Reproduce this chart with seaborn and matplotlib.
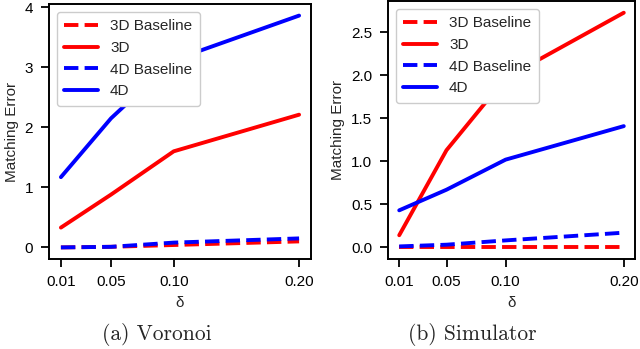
import numpy as np
import pandas as pd
import seaborn as sns
import matplotlib
matplotlib.use("Agg")
import matplotlib.pyplot as plt

deltas = [0.01, 0.05, 0.10, 0.20]
xtick_labels = ["0.01", "0.05", "0.10", "0.20"]

# (a) Voronoi
vor_3d_base = [0.00, 0.01, 0.04, 0.10]
vor_3d = [0.33, 0.88, 1.60, 2.21]
vor_4d_base = [0.00, 0.01, 0.08, 0.15]
vor_4d = [1.17, 2.15, 3.12, 3.86]

# (b) Simulator
sim_3d_base = [0.00, 0.00, 0.00, 0.00]
sim_3d = [0.14, 1.13, 1.97, 2.73]
sim_4d_base = [0.01, 0.03, 0.08, 0.17]
sim_4d = [0.43, 0.67, 1.02, 1.41]

series_names = ["3D Baseline", "3D", "4D Baseline", "4D"]
series_colors = ["#ff0000", "#ff0000", "#0000ff", "#0000ff"]
series_styles = ["--", "-", "--", "-"]

sns.set_style("ticks")
plt.rcParams["font.family"] = ["Liberation Sans", "DejaVu Sans"]
plt.rcParams["font.size"] = 11

fig = plt.figure(figsize=(6.4, 3.49), dpi=100)
ax1 = fig.add_axes([49/640, 1-259/349, (311-49)/640, (259-4)/349])
ax2 = fig.add_axes([388/640, 1-259/349, (635-388)/640, (259-1)/349])

panels = [
    (ax1, [vor_3d_base, vor_3d, vor_4d_base, vor_4d], [0, 1, 2, 3, 4], ["0", "1", "2", "3", "4"], "(a) Voronoi", 157),
    (ax2, [sim_3d_base, sim_3d, sim_4d_base, sim_4d], [0, 0.5, 1.0, 1.5, 2.0, 2.5],
     ["0.0", "0.5", "1.0", "1.5", "2.0", "2.5"], "(b) Simulator", 472),
]

for ax, data, yt, ytl, cap, cx in panels:
    for name, vals, col, ls in zip(series_names, data, series_colors, series_styles):
        df = pd.DataFrame({"delta": deltas, "err": vals})
        sns.lineplot(data=df, x="delta", y="err", ax=ax, color=col, linestyle=ls,
                     linewidth=2.8, label=name)
    ax.set_xticks(deltas)
    ax.set_xticklabels(xtick_labels)
    ax.set_yticks(yt)
    ax.set_yticklabels(ytl)
    ax.set_xlabel("δ", fontsize=11, labelpad=5)
    ax.set_ylabel("Matching Error", fontsize=11, labelpad=4)
    ax.tick_params(axis="both", labelsize=11, length=6, width=1.3, color="black",
                   labelcolor="black", direction="out")
    ax.tick_params(axis="x", pad=5.5)
    ax.tick_params(axis="y", pad=5.5)
    for s in ax.spines.values():
        s.set_color("black")
        s.set_linewidth(1.4)
    leg = ax.legend(loc="upper left", fontsize=11, frameon=True, fancybox=True,
                    framealpha=1.0, handlelength=2.2, borderpad=0.5, labelspacing=0.5)
    leg.get_frame().set_edgecolor("#cccccc")
    fig.text(cx/640, 1-335/349, cap, family="cmr10", fontsize=15.5, ha="center", va="center")

fig.savefig("out.png", dpi=100)
